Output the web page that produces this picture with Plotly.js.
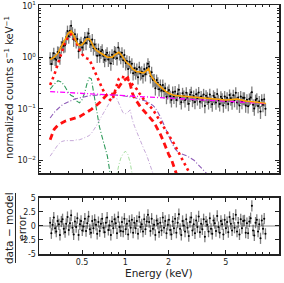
<!DOCTYPE html>
<html><head><meta charset="utf-8">
<script src="https://cdn.plot.ly/plotly-3.0.1.min.js"></script>
<style>html,body{margin:0;padding:0;background:#fff}#c{width:284px;height:283px}</style>
</head><body><div id="c"></div>
<script>
// ---- observed spectrum (keV, counts s^-1 keV^-1) ----
const energy = [
0.300,0.306,0.312,0.318,0.325,0.331,0.338,0.345,0.351,0.359,
0.366,0.373,0.381,0.388,0.396,0.404,0.412,0.420,0.429,0.437,
0.446,0.455,0.464,0.473,0.483,0.492,0.502,0.512,0.523,0.533,
0.544,0.555,0.566,0.577,0.589,0.600,0.612,0.625,0.637,0.650,
0.663,0.676,0.690,0.704,0.718,0.732,0.747,0.762,0.777,0.793,
0.808,0.825,0.841,0.858,0.875,0.893,0.910,0.929,0.947,0.966,
0.985,1.005,1.025,1.046,1.067,1.088,1.110,1.132,1.155,1.178,
1.201,1.225,1.250,1.275,1.300,1.326,1.353,1.380,1.407,1.436,
1.464,1.494,1.523,1.554,1.585,1.617,1.649,1.682,1.716,1.750,
1.785,1.821,1.857,1.894,1.932,1.971,2.010,2.050,2.091,2.133,
2.176,2.219,2.264,2.309,2.355,2.402,2.450,2.499,2.549,2.600,
2.652,2.705,2.759,2.815,2.871,2.928,2.987,3.047,3.108,3.170,
3.233,3.298,3.364,3.431,3.500,3.570,3.641,3.714,3.788,3.864,
3.941,4.020,4.101,4.183,4.266,4.352,4.439,4.527,4.618,4.710,
4.804,4.900,4.998,5.098,5.200,5.304,5.410,5.519,5.629,5.742,
5.856,5.974,6.093,6.215,6.339,6.466,6.595,6.727,6.862,6.999,
7.139,7.282,7.428,7.576,7.728,7.882,8.040,8.201,8.365,8.532,
8.703,8.877,9.054,9.236,9.420];
const rate = [
0.98,0.74,0.98,1.19,0.94,0.89,1.27,1.25,0.99,1.62,
1.91,1.67,1.71,2.44,3.22,2.55,3.28,4.11,3.01,2.21,
2.80,2.06,2.27,1.31,1.78,1.95,1.55,1.85,2.43,1.89,
2.45,2.89,2.09,1.76,2.21,1.50,1.77,1.46,1.07,1.44,
1.09,1.29,1.39,1.07,0.89,1.12,1.22,0.90,1.02,0.76,
1.12,0.98,1.29,1.23,0.96,1.54,1.20,1.02,1.22,0.87,
1.11,0.77,0.85,0.59,0.82,0.67,0.75,0.49,0.61,0.51,
0.59,0.41,0.64,0.49,0.52,0.43,0.59,0.47,0.62,0.75,
0.66,0.43,0.51,0.36,0.37,0.25,0.36,0.32,0.24,0.29,
0.225,0.29,0.22,0.25,0.17,0.21,0.23,0.175,0.147,0.21,
0.172,0.215,0.147,0.194,0.234,0.164,0.134,0.199,0.177,0.147,
0.204,0.164,0.125,0.188,0.208,0.149,0.176,0.135,0.191,0.160,
0.207,0.137,0.173,0.147,0.190,0.114,0.179,0.164,0.134,0.190,
0.144,0.122,0.178,0.166,0.132,0.193,0.146,0.123,0.170,0.156,
0.116,0.172,0.139,0.163,0.124,0.185,0.159,0.133,0.183,0.148,
0.204,0.132,0.165,0.115,0.172,0.136,0.163,0.163,0.116,0.150,
0.112,0.155,0.166,0.210,0.120,0.101,0.147,0.156,0.113,0.138,
0.088,0.150,0.119,0.153,0.100];
const resid = [
0.6,-1.3,0.2,1.5,-0.4,-1.0,0.9,0.3,-1.6,0.8,
1.2,-0.5,-1.1,0.4,1.6,-0.7,0.5,1.9,-0.3,-1.5,
0.8,-0.2,1.4,-1.6,0.3,0.9,-0.8,-0.1,1.3,-0.9,
0.5,1.7,-0.6,-1.2,0.9,-0.4,1.1,0.2,-1.4,0.7,
-0.9,0.4,1.3,-0.3,-1.1,0.6,1.5,-0.7,0.1,-1.6,
0.8,-0.4,1.2,0.5,-1.3,1.6,-0.2,-0.9,0.7,-1.0,
1.3,-0.6,0.4,-1.5,0.9,-0.3,1.1,-1.2,0.6,-0.4,
0.9,-1.4,1.6,-0.2,0.3,-1.0,1.2,-0.6,0.8,2.0,
0.7,-0.9,1.3,-0.5,0.2,-1.6,1.0,0.4,-1.1,0.6,
-0.8,1.5,-0.3,0.9,-1.3,0.2,1.1,-0.7,-1.5,0.8,
-0.4,1.3,-1.2,0.6,2.1,-0.5,-1.6,0.9,0.1,-1.0,
1.2,-0.3,-1.8,0.7,1.5,-0.8,0.3,-1.3,1.0,-0.2,
1.7,-1.1,0.4,-0.6,1.2,-1.9,0.8,0.2,-1.0,1.4,
-0.5,-1.4,1.0,0.5,-0.9,1.8,-0.2,-1.2,0.9,0.3,
-1.5,1.1,-0.4,0.7,-1.1,1.6,0.4,-0.8,1.3,-0.3,
2.0,-1.0,0.6,-1.5,1.2,-0.4,0.9,1.0,-1.2,0.5,
-1.3,0.8,1.4,3.6,-0.8,-1.7,0.6,1.1,-1.0,0.3,
-2.2,1.0,-0.5,1.3,-1.4];

// ---- model grid and components ----
const modelE = [0.30,0.32,0.34,0.36,0.38,0.40,0.42,0.44,0.46,0.48,0.50,0.52,0.54,0.56,0.58,0.60,
0.63,0.66,0.69,0.72,0.75,0.78,0.81,0.84,0.87,0.90,0.93,0.96,
1.00,1.04,1.08,1.12,1.16,1.20,1.25,1.30,1.35,1.40,1.45,1.50,
1.56,1.62,1.68,1.75,1.82,1.90,2.00,2.10,2.20,2.35,2.50,2.70,3.00,3.40,3.80,4.30,5.00,6.00,7.00,8.00,9.50];
const total = [0.90,1.00,1.20,1.60,2.20,2.90,3.25,2.60,1.90,1.70,1.75,2.00,2.30,2.30,2.00,1.60,
1.35,1.25,1.15,1.05,1.00,1.00,1.00,1.10,1.20,1.25,1.15,1.00,
0.85,0.75,0.70,0.60,0.55,0.52,0.52,0.50,0.50,0.55,0.60,0.45,
0.38,0.33,0.30,0.27,0.24,0.22,0.20,0.19,0.18,0.178,0.175,0.172,0.168,0.163,0.158,0.153,0.148,0.155,0.140,0.135,0.127];
const powerlaw = [0.215,0.213,0.211,0.209,0.207,0.206,0.204,0.203,0.201,0.200,0.199,0.198,0.197,0.196,0.195,0.194,
0.192,0.191,0.190,0.188,0.187,0.186,0.185,0.184,0.183,0.182,0.181,0.180,
0.179,0.178,0.177,0.176,0.175,0.174,0.173,0.172,0.171,0.170,0.169,0.168,
0.167,0.166,0.165,0.164,0.163,0.162,0.161,0.160,0.159,0.157,0.156,0.154,0.151,0.148,0.146,0.143,0.140,0.136,0.133,0.130,0.125];
const redDotted = [0.29,0.45,0.75,1.2,1.9,2.5,2.8,2.4,1.8,1.42,1.15,1.0,0.95,0.92,0.75,0.6,
0.42,0.32,0.25,0.2,0.17,0.15,0.145,0.2,0.3,0.38,0.42,0.41,
0.40,0.37,0.33,0.30,0.27,0.24,0.20,0.17,0.15,0.13,0.12,0.11,
0.095,0.08,0.068,0.055,0.047,0.04,0.03,0.025,0.02,0.014,0.01,0.007,0.004,0.002,0.001,0.0005,0.0002,0.0001,0.0001,0.0001,0.0001];
const redDashed = [0.025,0.04,0.048,0.053,0.057,0.06,0.062,0.065,0.068,0.07,0.075,0.08,0.085,0.09,0.097,0.105,
0.115,0.13,0.15,0.17,0.19,0.2,0.19,0.2,0.23,0.27,0.31,0.34,
0.37,0.40,0.30,0.20,0.16,0.14,0.115,0.10,0.09,0.08,0.072,0.065,
0.057,0.048,0.04,0.032,0.025,0.018,0.013,0.01,0.007,0.004,0.002,0.001,0.001,0.001,0.001,0.001,0.001,0.001,0.001,0.001,0.001];
const purple = [0.066,0.085,0.10,0.116,0.127,0.137,0.145,0.152,0.158,0.163,0.168,0.172,0.176,0.178,0.18,0.182,
0.184,0.186,0.187,0.188,0.188,0.188,0.187,0.186,0.185,0.183,0.181,0.179,
0.177,0.174,0.171,0.168,0.164,0.16,0.155,0.15,0.145,0.14,0.133,0.125,
0.115,0.103,0.088,0.07,0.055,0.04,0.03,0.022,0.017,0.014,0.013,0.012,0.01,0.007,0.005,0.003,0.0015,0.001,0.001,0.001,0.001];
const lavender = [0.012,0.016,0.02,0.023,0.024,0.024,0.024,0.024,0.025,0.025,0.026,0.027,0.028,0.03,0.033,0.038,
0.047,0.06,0.075,0.095,0.115,0.135,0.155,0.165,0.16,0.13,0.10,0.085,
0.08,0.085,0.095,0.06,0.045,0.035,0.026,0.02,0.016,0.013,0.01,0.008,
0.006,0.004,0.002,0.001];
const green = [0.24,0.30,0.35,0.33,0.27,0.21,0.18,0.17,0.14,0.13,0.15,0.20,0.30,0.40,0.38,0.22,
0.09,0.045,0.028,0.018,0.012,0.006,0.003,0.0015];
const lightGreenStart = 22;
const lightGreen = [0.002,0.003,0.005,0.008,0.011,0.013,0.015,0.013,0.009,0.005,0.003,0.0015];

const FONT = 'DejaVu Sans, sans-serif';
function line(y, x, color, width, dash) {
  return {x: x, y: y, xaxis: 'x2', yaxis: 'y', type: 'scatter', mode: 'lines',
    line: {color: color, width: width, dash: dash}, hoverinfo: 'skip', showlegend: false};
}
const traces = [
  {x: energy, y: rate, xaxis: 'x2', yaxis: 'y', type: 'scatter', mode: 'markers',
   marker: {color: '#000', size: 2},
   error_y: {type: 'percent', value: 28, color: 'rgba(40,40,40,0.6)', thickness: 1.3, width: 0},
   error_x: {type: 'percent', value: 1, color: '#000', thickness: 0.8, width: 0},
   showlegend: false},
  line(lavender, modelE.slice(0, lavender.length), '#c6a9d9', 1, '4px,2px,1px,2px'),
  line(lightGreen, modelE.slice(lightGreenStart, lightGreenStart + lightGreen.length), '#a6dea0', 1, '4px,2px,1px,2px'),
  line(green, modelE.slice(0, green.length), '#2e9a5a', 1.1, '5px,2px,1px,2px'),
  line(purple, modelE, '#8f5cb8', 1.1, '5px,2px,1px,2px'),
  line(redDashed, modelE, '#ff1010', 2.8, '6px,4px'),
  line(redDotted, modelE, '#ff1010', 2.6, '2.6px,3.4px'),
  line(powerlaw, modelE, '#ff00ff', 1.3, '5px,2px,1px,2px'),
  line(total, modelE, '#ffa200', 1.5, 'solid'),
  {x: energy, y: resid, xaxis: 'x', yaxis: 'y2', type: 'scatter', mode: 'markers',
   marker: {color: '#000', size: 2},
   error_y: {type: 'constant', value: 1, color: 'rgba(40,40,40,0.6)', thickness: 1.3, width: 0},
   error_x: {type: 'percent', value: 1, color: '#000', thickness: 0.8, width: 0},
   showlegend: false}
];

const xMinor = [0.3,0.4,0.6,0.7,0.8,0.9,3,4,6,7,8,9,10];
const yMinor = [];
[0.001,0.01,0.1,1].forEach(function(d){ for (let k = 2; k <= 9; k++) yMinor.push(+(d*k).toPrecision(3)); });
const xRange = [Math.log10(0.251), Math.log10(11.7)];
const axisCommon = {showline: true, linecolor: '#222', linewidth: 1.5, mirror: 'allticks',
  ticks: 'inside', ticklen: 4, tickwidth: 1, tickcolor: '#222', showgrid: false, zeroline: false,
  tickfont: {family: FONT, size: 8, color: '#222'}};

const layout = {
  width: 284, height: 283, margin: {l: 39, r: 5, t: 5, b: 29},
  paper_bgcolor: '#fff', plot_bgcolor: '#fff', showlegend: false,
  font: {family: FONT, color: '#222'},
  xaxis: Object.assign({}, axisCommon, {type: 'log', range: xRange, anchor: 'y2',
    tickmode: 'array', tickvals: [0.5,1,2,5], ticktext: ['0.5','1','2','5'],
    minor: {tickvals: xMinor, ticks: 'inside', ticklen: 2, tickcolor: '#222', showgrid: false}}),
  xaxis2: Object.assign({}, axisCommon, {type: 'log', range: xRange, anchor: 'y', matches: 'x',
    tickmode: 'array', tickvals: [0.5,1,2,5], showticklabels: false,
    minor: {tickvals: xMinor, ticks: 'inside', ticklen: 2, tickcolor: '#222', showgrid: false}}),
  yaxis: Object.assign({}, axisCommon, {type: 'log', domain: [0.325, 1], range: [-2.25, 1.015], anchor: 'x2',
    tickmode: 'array', tickvals: [0.01,0.1,1,10],
    ticktext: ['10<sup>−2</sup>','10<sup>−1</sup>','10<sup>0</sup>','10<sup>1</sup>'],
    minor: {tickvals: yMinor, ticks: 'inside', ticklen: 2, tickcolor: '#222', showgrid: false}}),
  yaxis2: Object.assign({}, axisCommon, {domain: [0, 0.225], range: [-5, 5], anchor: 'x',
    tickmode: 'array', tickvals: [-5,-2.5,0,2.5,5], ticktext: ['-5','-2.5','0','2.5','5']}),
  shapes: [
    {type: 'line', xref: 'paper', yref: 'y2', x0: 0, x1: 1, y0: 0, y1: 0, line: {color: '#888', width: 1}, layer: 'below'},
    {type: 'line', xref: 'paper', yref: 'paper', x0: -0.098, x1: -0.098, y0: 0.245, y1: -0.036, line: {color: '#222', width: 1}}
  ],
  annotations: [
    {text: 'normalized counts s<sup>−1</sup> keV<sup>−1</sup>', xref: 'paper', yref: 'paper', x: -0.125, y: 0.667,
     textangle: -90, showarrow: false, xanchor: 'center', yanchor: 'middle', font: {family: FONT, size: 10, color: '#222'}},
    {text: 'data − model', xref: 'paper', yref: 'paper', x: -0.125, y: 0.104,
     textangle: -90, showarrow: false, xanchor: 'center', yanchor: 'middle', font: {family: FONT, size: 10.5, color: '#222'}},
    {text: 'error', xref: 'paper', yref: 'paper', x: -0.072, y: 0.104,
     textangle: -90, showarrow: false, xanchor: 'center', yanchor: 'middle', font: {family: FONT, size: 10.5, color: '#222'}},
    {text: 'Energy (keV)', xref: 'paper', yref: 'paper', x: 0.5, y: -0.076,
     showarrow: false, xanchor: 'center', yanchor: 'middle', font: {family: FONT, size: 10.5, color: '#222'}}
  ]
};
Plotly.newPlot('c', traces, layout, {staticPlot: true, displayModeBar: false});
</script></body></html>
